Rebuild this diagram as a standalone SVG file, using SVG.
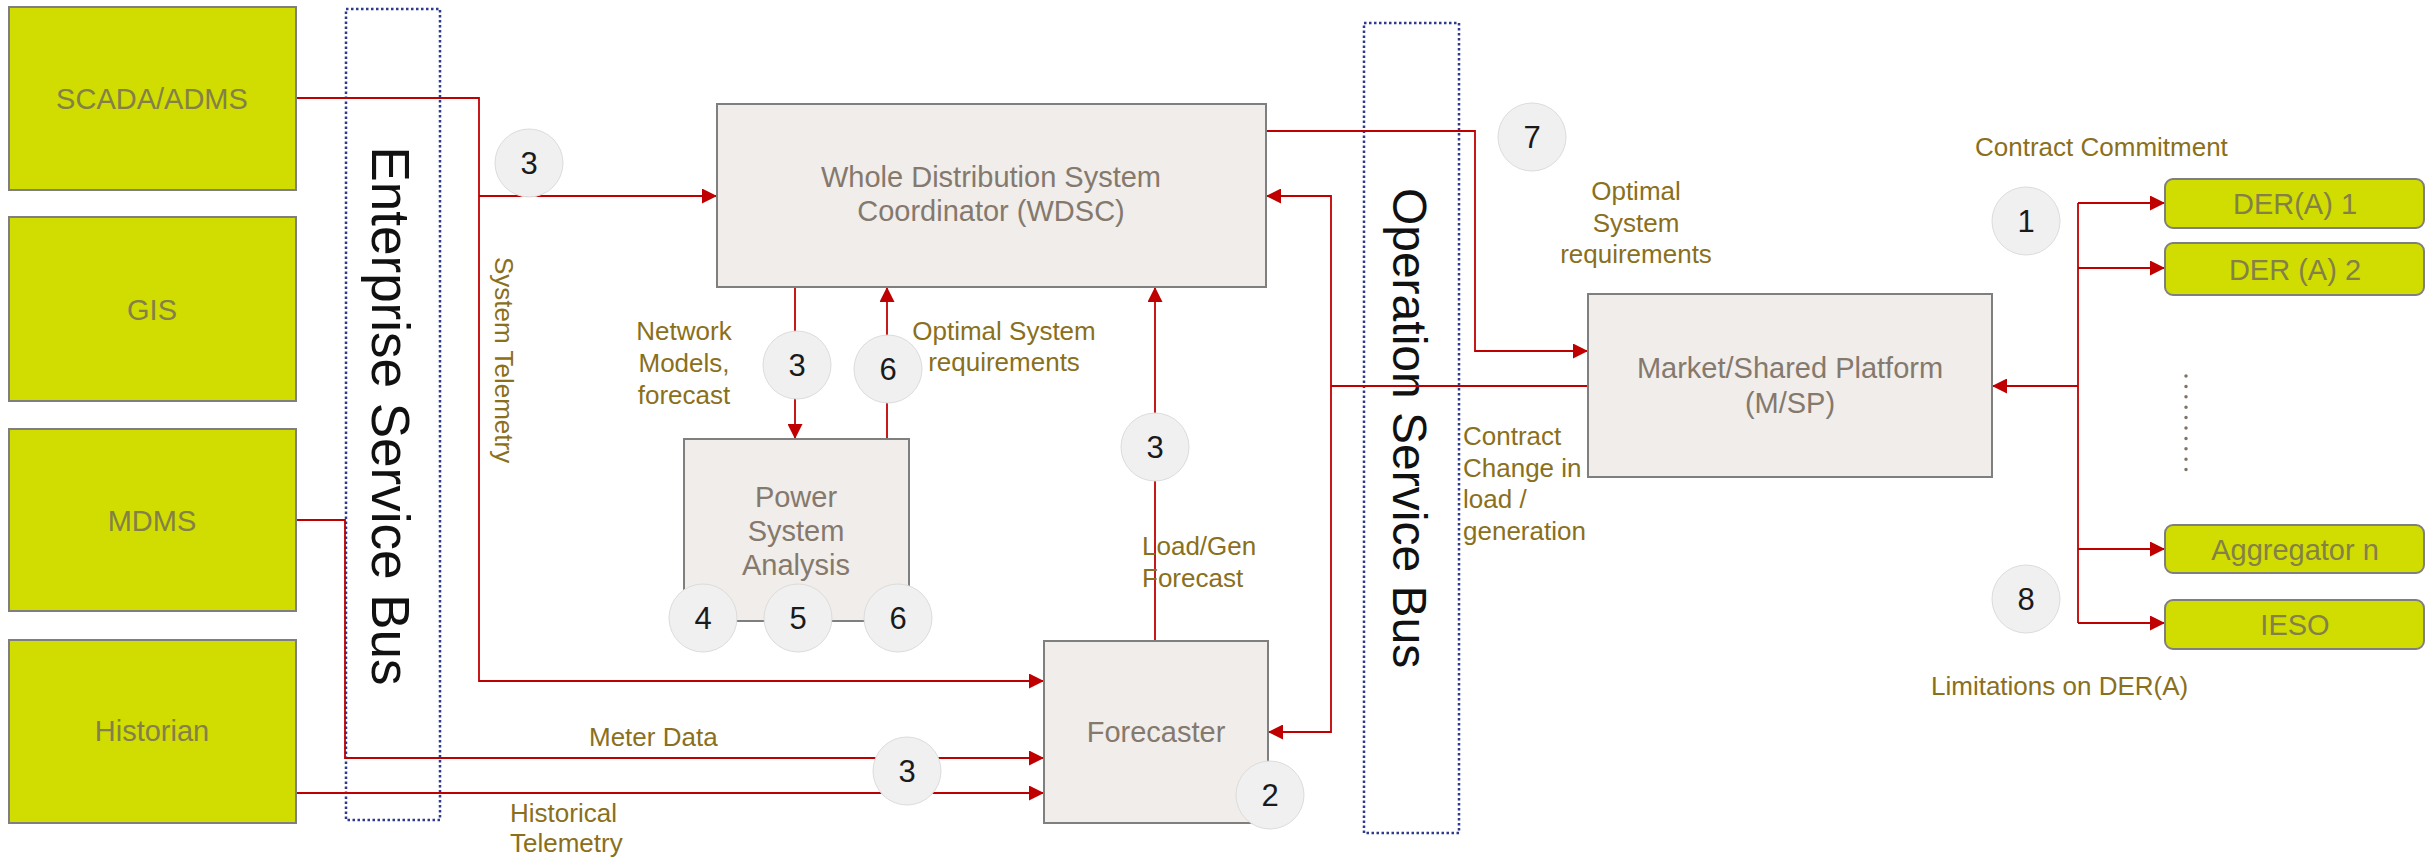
<svg xmlns="http://www.w3.org/2000/svg" width="2433" height="865" viewBox="0 0 2433 865">
<defs>
<marker id="arr" viewBox="0 0 10 10" refX="10" refY="5" markerUnits="userSpaceOnUse" markerWidth="15" markerHeight="15" orient="auto">
<path d="M0,0 L10,5 L0,10 z" fill="#C00000"/>
</marker>
<style>
.sys{fill:#D1DD00;stroke:#7F7F7F;stroke-width:2}
.gbox{fill:#F0EDEA;stroke:#7F7F7F;stroke-width:2}
.bus{fill:none;stroke:#2E3A8C;stroke-width:2.5;stroke-dasharray:2.5 2.5}
.st{font-family:"Liberation Sans",Arial,sans-serif;font-size:29px;fill:#838049;text-anchor:middle}
.gt{font-family:"Liberation Sans",Arial,sans-serif;font-size:29px;fill:#85796D;text-anchor:middle}
.bt{font-family:"Liberation Sans",Arial,sans-serif;fill:#111;text-anchor:middle}
.lb{font-family:"Liberation Sans",Arial,sans-serif;font-size:26px;fill:#8A6F1C}
.num{fill:#F0F0F0;stroke:#DCDCDC;stroke-width:1}
.nt{font-family:"Liberation Sans",Arial,sans-serif;font-size:31px;fill:#1A1A1A;text-anchor:middle}
.ln{fill:none;stroke:#C00000;stroke-width:1.8}
</style>
</defs>
<rect width="2433" height="865" fill="#FFFFFF"/>

<g id="enterprise-bus">
<rect class="bus" x="346" y="9" width="94" height="811"/>
<text class="bt" font-size="53" transform="translate(372,416) rotate(90)">Enterprise Service Bus</text>
</g>
<g id="operation-bus">
<rect class="bus" x="1364" y="23" width="95" height="810"/>
<text class="bt" font-size="48" transform="translate(1393,428) rotate(90)">Operation Service Bus</text>
</g>

<g id="connectors">
<path class="ln" d="M296,98 H479 V681 H1044" marker-end="url(#arr)"/>
<path class="ln" d="M479,196 H717" marker-end="url(#arr)"/>
<path class="ln" d="M1266,131 H1475 V351 H1588" marker-end="url(#arr)"/>
<path class="ln" d="M1588,386 H1331"/>
<path class="ln" d="M1331,386 V196 H1266" marker-end="url(#arr)"/>
<path class="ln" d="M1331,386 V732 H1268" marker-end="url(#arr)"/>
<path class="ln" d="M2078,386 H1992" marker-end="url(#arr)"/>
<path class="ln" d="M2078,203 V623"/>
<path class="ln" d="M2078,203 H2165" marker-end="url(#arr)"/>
<path class="ln" d="M2078,268 H2165" marker-end="url(#arr)"/>
<path class="ln" d="M2078,549 H2165" marker-end="url(#arr)"/>
<path class="ln" d="M2078,623 H2165" marker-end="url(#arr)"/>
<path class="ln" d="M795,287 V439" marker-end="url(#arr)"/>
<path class="ln" d="M887,439 V287" marker-end="url(#arr)"/>
<path class="ln" d="M1155,641 V287" marker-end="url(#arr)"/>
<path class="ln" d="M296,520 H345 V758 H1044" marker-end="url(#arr)"/>
<path class="ln" d="M296,793 H1044" marker-end="url(#arr)"/>
</g>

<g id="scada">
<rect class="sys" x="9" y="7" width="287" height="183"/>
<text class="st" x="152" y="109">SCADA/ADMS</text>
</g>
<g id="gis">
<rect class="sys" x="9" y="217" width="287" height="184"/>
<text class="st" x="152" y="320">GIS</text>
</g>
<g id="mdms">
<rect class="sys" x="9" y="429" width="287" height="182"/>
<text class="st" x="152" y="531">MDMS</text>
</g>
<g id="historian">
<rect class="sys" x="9" y="640" width="287" height="183"/>
<text class="st" x="152" y="741">Historian</text>
</g>

<g id="wdsc">
<rect class="gbox" x="717" y="104" width="549" height="183"/>
<text class="gt" x="991" y="187">Whole Distribution System</text>
<text class="gt" x="991" y="221">Coordinator (WDSC)</text>
</g>
<g id="psa">
<rect class="gbox" x="684" y="439" width="225" height="182"/>
<text class="gt" x="796" y="507">Power</text>
<text class="gt" x="796" y="541">System</text>
<text class="gt" x="796" y="575">Analysis</text>
</g>
<g id="forecaster">
<rect class="gbox" x="1044" y="641" width="224" height="182"/>
<text class="gt" x="1156" y="742">Forecaster</text>
</g>
<g id="msp">
<rect class="gbox" x="1588" y="294" width="404" height="183"/>
<text class="gt" x="1790" y="378">Market/Shared Platform</text>
<text class="gt" x="1790" y="413">(M/SP)</text>
</g>

<g id="der1">
<rect class="sys" x="2165" y="179" width="259" height="49" rx="8"/>
<text class="st" x="2295" y="214">DER(A) 1</text>
</g>
<g id="der2">
<rect class="sys" x="2165" y="243" width="259" height="52" rx="8"/>
<text class="st" x="2295" y="280">DER (A) 2</text>
</g>
<g id="ellipsis">
<line x1="2186" y1="376" x2="2186" y2="470" stroke="#7F7364" stroke-width="3.5" stroke-linecap="round" stroke-dasharray="0 10.4"/>
</g>
<g id="aggregator">
<rect class="sys" x="2165" y="525" width="259" height="48" rx="8"/>
<text class="st" x="2295" y="560">Aggregator n</text>
</g>
<g id="ieso">
<rect class="sys" x="2165" y="600" width="259" height="49" rx="8"/>
<text class="st" x="2295" y="635">IESO</text>
</g>

<g id="step-markers">
<ellipse class="num" cx="529" cy="163" rx="34" ry="34"/><text class="nt" x="529" y="174">3</text>
<ellipse class="num" cx="797" cy="365" rx="34" ry="34"/><text class="nt" x="797" y="376">3</text>
<ellipse class="num" cx="888" cy="369" rx="34" ry="34"/><text class="nt" x="888" y="380">6</text>
<ellipse class="num" cx="1155" cy="447" rx="34" ry="34"/><text class="nt" x="1155" y="458">3</text>
<ellipse class="num" cx="703" cy="618" rx="34" ry="34"/><text class="nt" x="703" y="629">4</text>
<ellipse class="num" cx="798" cy="618" rx="34" ry="34"/><text class="nt" x="798" y="629">5</text>
<ellipse class="num" cx="898" cy="618" rx="34" ry="34"/><text class="nt" x="898" y="629">6</text>
<ellipse class="num" cx="907" cy="771" rx="34" ry="34"/><text class="nt" x="907" y="782">3</text>
<ellipse class="num" cx="1270" cy="795" rx="34" ry="34"/><text class="nt" x="1270" y="806">2</text>
<ellipse class="num" cx="1532" cy="137" rx="34" ry="34"/><text class="nt" x="1532" y="148">7</text>
<ellipse class="num" cx="2026" cy="221" rx="34" ry="34"/><text class="nt" x="2026" y="232">1</text>
<ellipse class="num" cx="2026" cy="599" rx="34" ry="34"/><text class="nt" x="2026" y="610">8</text>
</g>

<g id="labels">
<text class="lb" transform="translate(495,257) rotate(90)">System Telemetry</text>
<text class="lb" x="684" y="340" text-anchor="middle">Network</text>
<text class="lb" x="684" y="372" text-anchor="middle">Models,</text>
<text class="lb" x="684" y="404" text-anchor="middle">forecast</text>
<text class="lb" x="1004" y="340" text-anchor="middle">Optimal System</text>
<text class="lb" x="1004" y="371" text-anchor="middle">requirements</text>
<text class="lb" x="1142" y="555">Load/Gen</text>
<text class="lb" x="1142" y="587">Forecast</text>
<text class="lb" x="589" y="746">Meter Data</text>
<text class="lb" x="510" y="822">Historical</text>
<text class="lb" x="510" y="852">Telemetry</text>
<text class="lb" x="1636" y="200" text-anchor="middle">Optimal</text>
<text class="lb" x="1636" y="232" text-anchor="middle">System</text>
<text class="lb" x="1636" y="263" text-anchor="middle">requirements</text>
<text class="lb" x="1463" y="445">Contract</text>
<text class="lb" x="1463" y="477">Change in</text>
<text class="lb" x="1463" y="508">load /</text>
<text class="lb" x="1463" y="540">generation</text>
<text class="lb" x="1975" y="156">Contract Commitment</text>
<text class="lb" x="1931" y="695">Limitations on DER(A)</text>
</g>
</svg>
